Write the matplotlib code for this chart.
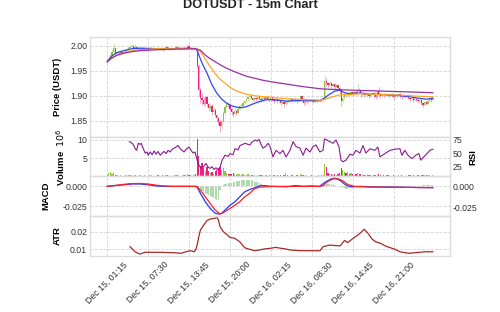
import numpy as np
import matplotlib
matplotlib.use("Agg")
import matplotlib.pyplot as plt
from matplotlib.ticker import FormatStrFormatter

plt.rcParams['font.family'] = ['Liberation Sans', 'DejaVu Sans']

## data (15m bars, index 0..199)
closes = [
    1.969, 1.974, 1.981, 1.988, 1.995, 1.986, 1.987, 1.985, 1.988, 1.986,
    1.987, 1.990, 1.992, 1.995, 1.997, 1.999, 1.996, 1.998, 1.995, 1.993,
    1.994, 1.996, 1.993, 1.995, 1.994, 1.992, 1.995, 1.996, 1.993, 1.994,
    1.995, 1.993, 1.996, 1.994, 1.992, 1.995, 1.997, 1.994, 1.995, 1.993,
    1.994, 1.996, 1.998, 1.995, 1.993, 1.994, 1.995, 1.993, 1.996, 1.999,
    1.995, 1.994, 1.993, 1.995, 1.993, 1.960, 1.912, 1.896, 1.892, 1.884,
    1.897, 1.883, 1.876, 1.880, 1.868, 1.872, 1.861, 1.855, 1.848, 1.839,
    1.850, 1.866, 1.878, 1.884, 1.881, 1.874, 1.868, 1.864, 1.870, 1.866,
    1.874, 1.880, 1.879, 1.886, 1.889, 1.893, 1.897, 1.900, 1.896, 1.892,
    1.895, 1.893, 1.897, 1.894, 1.891, 1.896, 1.893, 1.898, 1.894, 1.892,
    1.895, 1.893, 1.890, 1.894, 1.889, 1.891, 1.886, 1.888, 1.884, 1.889,
    1.887, 1.891, 1.893, 1.890, 1.894, 1.892, 1.889, 1.893, 1.899, 1.893,
    1.886, 1.888, 1.891, 1.889, 1.892, 1.890, 1.888, 1.891, 1.889, 1.892,
    1.890, 1.891, 1.893, 1.929, 1.925, 1.922, 1.926, 1.920, 1.923, 1.918,
    1.921, 1.915, 1.912, 1.889, 1.896, 1.904, 1.901, 1.906, 1.903, 1.907,
    1.904, 1.908, 1.905, 1.912, 1.909, 1.903, 1.906, 1.901, 1.904, 1.902,
    1.899, 1.903, 1.905, 1.901, 1.898, 1.909, 1.902, 1.900, 1.903, 1.901,
    1.904, 1.902, 1.899, 1.903, 1.901, 1.898, 1.902, 1.900, 1.903, 1.899,
    1.897, 1.900, 1.898, 1.901, 1.896, 1.893, 1.895, 1.891, 1.894, 1.892,
    1.889, 1.891, 1.886, 1.882, 1.888, 1.884, 1.890, 1.893, 1.891, 1.896,
]
first_open = 1.965
highs = [
    1.972, 1.978, 1.985, 1.993, 2.006, 1.997, 1.990, 1.989, 1.991, 1.990,
    1.990, 1.993, 1.996, 1.999, 2.001, 2.003, 2.002, 2.003, 2.000, 1.997,
    1.997, 1.999, 1.998, 1.997, 1.997, 1.996, 1.997, 1.999, 1.998, 1.996,
    1.997, 1.997, 1.998, 1.998, 1.996, 1.998, 2.002, 1.999, 1.997, 1.997,
    1.996, 1.998, 2.001, 2.000, 1.997, 1.996, 1.997, 1.997, 1.998, 2.004,
    2.001, 1.997, 1.996, 1.997, 1.998, 1.995, 1.963, 1.918, 1.905, 1.898,
    1.902, 1.900, 1.886, 1.886, 1.883, 1.876, 1.875, 1.864, 1.858, 1.851,
    1.853, 1.869, 1.882, 1.888, 1.887, 1.883, 1.876, 1.870, 1.873, 1.872,
    1.877, 1.883, 1.884, 1.889, 1.892, 1.896, 1.900, 1.904, 1.902, 1.898,
    1.898, 1.897, 1.904, 1.899, 1.896, 1.899, 1.898, 1.901, 1.900, 1.896,
    1.898, 1.897, 1.895, 1.896, 1.896, 1.893, 1.893, 1.891, 1.890, 1.891,
    1.892, 1.893, 1.896, 1.895, 1.896, 1.896, 1.894, 1.895, 1.902, 1.901,
    1.895, 1.890, 1.893, 1.893, 1.894, 1.894, 1.892, 1.893, 1.893, 1.894,
    1.894, 1.893, 1.895, 1.942, 1.935, 1.928, 1.930, 1.928, 1.926, 1.925,
    1.924, 1.923, 1.917, 1.914, 1.899, 1.907, 1.906, 1.909, 1.908, 1.910,
    1.909, 1.910, 1.910, 1.926, 1.916, 1.911, 1.908, 1.908, 1.906, 1.906,
    1.904, 1.905, 1.907, 1.907, 1.903, 1.911, 1.917, 1.904, 1.905, 1.905,
    1.906, 1.906, 1.904, 1.905, 1.905, 1.903, 1.904, 1.904, 1.905, 1.905,
    1.901, 1.902, 1.902, 1.903, 1.903, 1.898, 1.897, 1.897, 1.896, 1.896,
    1.894, 1.893, 1.893, 1.888, 1.890, 1.890, 1.892, 1.895, 1.895, 1.898,
]
lows = [
    1.963, 1.967, 1.972, 1.979, 1.986, 1.983, 1.984, 1.982, 1.983, 1.984,
    1.984, 1.985, 1.988, 1.990, 1.993, 1.995, 1.993, 1.994, 1.992, 1.990,
    1.991, 1.992, 1.991, 1.991, 1.992, 1.989, 1.990, 1.993, 1.991, 1.991,
    1.992, 1.991, 1.991, 1.992, 1.989, 1.990, 1.993, 1.992, 1.992, 1.991,
    1.991, 1.992, 1.994, 1.993, 1.991, 1.991, 1.992, 1.991, 1.991, 1.994,
    1.993, 1.992, 1.991, 1.991, 1.990, 1.955, 1.900, 1.886, 1.882, 1.879,
    1.880, 1.878, 1.869, 1.872, 1.862, 1.864, 1.857, 1.848, 1.841, 1.827,
    1.834, 1.846, 1.862, 1.875, 1.877, 1.870, 1.861, 1.857, 1.861, 1.862,
    1.863, 1.871, 1.875, 1.876, 1.884, 1.886, 1.890, 1.894, 1.893, 1.889,
    1.889, 1.890, 1.891, 1.891, 1.887, 1.889, 1.890, 1.891, 1.891, 1.888,
    1.889, 1.890, 1.886, 1.887, 1.885, 1.886, 1.882, 1.884, 1.877, 1.882,
    1.884, 1.885, 1.889, 1.887, 1.888, 1.889, 1.886, 1.887, 1.891, 1.891,
    1.882, 1.884, 1.886, 1.886, 1.887, 1.888, 1.885, 1.886, 1.887, 1.887,
    1.888, 1.888, 1.889, 1.890, 1.919, 1.917, 1.919, 1.915, 1.917, 1.913,
    1.915, 1.912, 1.906, 1.880, 1.886, 1.894, 1.898, 1.899, 1.900, 1.901,
    1.901, 1.902, 1.902, 1.903, 1.905, 1.898, 1.900, 1.898, 1.899, 1.899,
    1.895, 1.897, 1.901, 1.898, 1.894, 1.896, 1.899, 1.896, 1.898, 1.898,
    1.899, 1.899, 1.895, 1.897, 1.898, 1.894, 1.896, 1.897, 1.898, 1.896,
    1.893, 1.895, 1.895, 1.896, 1.893, 1.889, 1.890, 1.887, 1.889, 1.889,
    1.885, 1.886, 1.882, 1.877, 1.880, 1.881, 1.882, 1.888, 1.888, 1.889,
]
volumes = [  # millions
    0.4, 0.9, 1.1, 0.7, 1.0, 0.5, 0.3, 0.2, 0.3, 0.2,
    0.2, 0.3, 0.4, 0.3, 0.5, 0.4, 0.2, 0.3, 0.2, 0.2,
    0.3, 0.2, 0.2, 0.3, 0.2, 0.2, 0.3, 0.4, 0.2, 0.2,
    0.2, 0.3, 0.2, 0.2, 0.4, 0.2, 0.5, 0.3, 0.2, 0.2,
    0.2, 0.3, 0.4, 0.3, 0.2, 0.2, 0.2, 0.3, 0.3, 0.6,
    0.4, 0.3, 0.2, 0.3, 0.6, 10.2, 5.5, 2.8, 3.6, 2.2,
    1.6, 2.6, 1.4, 0.9, 1.3, 0.8, 1.5, 1.9, 2.3, 2.7,
    1.9, 2.3, 1.5, 0.9, 0.6, 0.8, 0.7, 1.0, 0.6, 0.5,
    0.7, 0.6, 0.4, 0.6, 0.5, 0.4, 0.6, 0.5, 0.3, 0.4,
    0.3, 0.2, 0.4, 0.3, 0.3, 0.3, 0.2, 0.3, 0.2, 0.3,
    0.2, 0.2, 0.3, 0.2, 0.4, 0.2, 0.3, 0.2, 0.5, 0.9,
    0.3, 0.2, 0.2, 0.3, 0.2, 0.2, 0.3, 0.2, 0.6, 0.4,
    0.5, 0.3, 0.2, 0.2, 0.2, 0.3, 0.2, 0.2, 0.2, 0.3,
    0.2, 0.3, 0.3, 3.3, 2.6, 0.9, 0.7, 0.8, 0.5, 0.6,
    0.5, 0.8, 0.9, 2.4, 1.7, 1.3, 0.9, 1.2, 0.6, 0.9,
    0.7, 0.5, 0.6, 1.0, 0.8, 0.6, 0.4, 0.5, 0.3, 0.3,
    0.4, 0.3, 0.2, 0.3, 0.4, 0.5, 0.7, 0.3, 0.2, 0.3,
    0.2, 0.3, 0.3, 0.2, 0.2, 0.3, 0.2, 0.2, 0.3, 0.2,
    0.3, 0.2, 0.2, 0.2, 0.3, 0.4, 0.2, 0.3, 0.2, 0.2,
    0.3, 0.2, 0.4, 0.5, 0.4, 0.3, 0.3, 0.4, 0.2, 0.3,
]

# moving averages (bar index, price)
ma_fast_idx = [0, 3, 6, 10, 15, 20, 30, 40, 50, 54, 55, 58, 61, 64, 67, 70, 73, 76, 79, 82, 85, 88,
               91, 94, 97, 100, 105, 110, 115, 120, 125, 130, 133, 136, 139, 142, 145, 148, 152,
               156, 160, 165, 170, 175, 180, 185, 190, 195, 199]
ma_fast = [1.969, 1.980, 1.986, 1.990, 1.994, 1.995, 1.994, 1.994, 1.995, 1.994, 1.990, 1.965,
           1.945, 1.922, 1.905, 1.893, 1.885, 1.880, 1.877, 1.876, 1.878, 1.882, 1.886, 1.889,
           1.892, 1.892, 1.891, 1.889, 1.890, 1.890, 1.890, 1.890, 1.896, 1.903, 1.909, 1.911,
           1.906, 1.904, 1.905, 1.905, 1.903, 1.903, 1.902, 1.901, 1.900, 1.898, 1.895, 1.893,
           1.895]
ma_mid_idx = [0, 3, 6, 10, 15, 20, 30, 40, 50, 54, 57, 60, 63, 66, 69, 72, 75, 78, 81, 85, 90,
              95, 100, 105, 110, 115, 120, 125, 130, 133, 136, 140, 143, 146, 150, 155, 160, 170,
              180, 190, 199]
ma_mid = [1.968, 1.975, 1.981, 1.986, 1.990, 1.992, 1.994, 1.994, 1.994, 1.994, 1.988, 1.973,
          1.958, 1.944, 1.933, 1.925, 1.917, 1.911, 1.907, 1.903, 1.900, 1.898, 1.897, 1.895,
          1.894, 1.893, 1.892, 1.892, 1.891, 1.893, 1.896, 1.900, 1.902, 1.902, 1.903, 1.904,
          1.903, 1.902, 1.901, 1.899, 1.898]
ma_slow_idx = [0, 3, 6, 10, 15, 20, 25, 30, 40, 54, 57, 60, 63, 66, 70, 73, 77, 81, 85, 90, 95,
               100, 110, 120, 130, 135, 142, 150, 160, 170, 180, 190, 199]
ma_slow = [1.968, 1.976, 1.981, 1.985, 1.988, 1.990, 1.991, 1.992, 1.993, 1.994, 1.991, 1.981,
           1.974, 1.968, 1.960, 1.955, 1.949, 1.944, 1.939, 1.935, 1.931, 1.928, 1.923, 1.918,
           1.914, 1.913, 1.912, 1.911, 1.910, 1.909, 1.908, 1.907, 1.906]

# RSI (bar index, value)
rsi_idx = [13.6, 14.7, 15.9, 17.1, 18, 19, 20.1, 20.8, 21.4, 23.2, 24.4, 25, 26.3, 27.5, 28.7,
           29.9, 31.1, 32.4, 33.6, 34.8, 36, 37.2, 38.5, 39.7, 41.5, 43.3, 44.6, 45.8, 47, 48.2,
           50, 51.3, 52.5, 53.7, 54.9, 56.2, 57.4, 58.6, 60.4, 61.7, 62.9, 64.1, 65.3, 66.5,
           67.8, 69, 70.2, 72, 73.9, 75.1, 76.9, 78.1, 80, 81.2, 83, 84.2, 86, 87.3, 88.5, 90.4,
           91.6, 92.8, 94, 95.2, 97.1, 98.3, 99.5, 101.3, 103.2, 105.6, 107.4, 109.3, 111.7,
           113.6, 115.4, 117.8, 119.7, 121.5, 123.9, 125.8, 127.6, 130, 131.9, 132.8, 134.3,
           136.1, 138, 139.8, 141.6, 142.9, 144.1, 145.9, 148.4, 150.2, 152, 154.5, 156.3,
           158.1, 160.6, 163.6, 165.4, 166.7, 169.7, 172.8, 175.8, 178.9, 180.1, 181.9, 183.8,
           186.2, 188.6, 190.5, 191.7, 193.5, 195.4, 197.2, 199]
rsi = [71, 69, 66, 58, 55, 68, 66, 68, 63, 50, 52, 46, 52, 47, 54, 48, 53, 46, 50, 53, 49, 55,
       52, 57, 60, 64, 58, 55, 52, 57, 61, 55, 50, 52, 38, 27, 22, 24, 31, 24, 22, 25, 20, 23,
       19, 24, 37, 46, 44, 49, 47, 58, 56, 64, 66, 68, 66, 65, 70, 74, 72, 75, 66, 59, 63, 68,
       62, 43, 55, 49, 55, 43, 55, 71, 62, 59, 46, 59, 52, 62, 65, 52, 55, 76, 74, 71, 68, 74,
       62, 37, 34, 37, 48, 46, 55, 50, 64, 50, 58, 55, 61, 43, 49, 55, 57, 58, 46, 55, 46, 40,
       46, 49, 37, 43, 49, 55, 57]

# MACD / signal (bar index, value)
macd_idx = [0, 5, 10, 15, 20, 25, 30, 35, 40, 45, 50, 54, 55, 57, 60, 63, 66, 68, 70, 73, 75,
            78, 81, 84, 87, 90, 93, 96, 100, 110, 115, 120, 125, 130, 131, 133, 135, 137, 139,
            141, 143, 145, 147, 150, 155, 160, 170, 180, 190, 199]
macd = [0.000, 0.001, 0.002, 0.003, 0.003, 0.002, 0.0005, 0.000, 0.000, 0.000, 0.000, 0.000,
        -0.001, -0.009, -0.0196, -0.028, -0.034, -0.035, -0.034, -0.028, -0.024, -0.0196,
        -0.0133, -0.007, -0.004, -0.002, 0.0005, 0.001, 0.000, -0.0005, 0.001, 0.000, 0.0005,
        0.000, 0.002, 0.005, 0.0075, 0.0095, 0.0104, 0.009, 0.0065, 0.003, 0.0005, -0.0005,
        0.000, -0.0005, -0.0008, -0.001, -0.0015, -0.0017]
signal_idx = [0, 5, 10, 15, 20, 25, 30, 35, 40, 50, 54, 55, 57, 60, 63, 66, 69, 71, 75, 78, 81,
              84, 87, 90, 93, 100, 110, 120, 130, 132, 134, 136, 138, 141, 144, 147, 151, 160,
              170, 180, 190, 199]
signal = [0.000, 0.0012, 0.0025, 0.0035, 0.0037, 0.003, 0.0015, 0.0005, 0.000, 0.000, 0.000,
          0.000, -0.005, -0.0133, -0.0217, -0.030, -0.035, -0.0333, -0.028, -0.0238, -0.0196,
          -0.0133, -0.009, -0.003, -0.001, 0.000, 0.000, 0.000, 0.000, 0.001, 0.005, 0.0075,
          0.0096, 0.0096, 0.007, 0.0025, 0.000, -0.0008, -0.001, -0.0012, -0.0014, -0.0015]
hist = [
    0.0005, 0.0008, 0.0010, 0.0010, 0.0012, 0.0010, 0.0008, 0.0006, 0.0005, 0.0004,
    0.0004, 0.0005, 0.0006, 0.0006, 0.0007, 0.0006, 0.0005, 0.0004, 0.0003, 0.0002,
    0.0002, 0.0001, -0.0002, -0.0003, -0.0004, -0.0004, -0.0003, -0.0002, -0.0002, -0.0001,
    0.0001, 0.0002, 0.0002, 0.0001, -0.0001, -0.0002, -0.0002, -0.0001, 0.0001, 0.0002,
    0.0002, 0.0001, 0.0001, -0.0001, -0.0002, -0.0001, 0.0001, 0.0001, 0.0002, 0.0002,
    0.0001, -0.0001, -0.0002, -0.0001, -0.0003, -0.0010, -0.0030, -0.0045, -0.0060, -0.0075,
    -0.0085, -0.0095, -0.0105, -0.0115, -0.0125, -0.0135, -0.0145, -0.0155, -0.0165, -0.0050,
    0.0005, 0.0012, 0.0020, 0.0026, 0.0030, 0.0035, 0.0040, 0.0045, 0.0050, 0.0054,
    0.0058, 0.0062, 0.0065, 0.0068, 0.0070, 0.0072, 0.0073, 0.0073, 0.0071, 0.0066,
    0.0060, 0.0052, 0.0042, 0.0031, 0.0022, 0.0015, 0.0010, 0.0006, 0.0004, 0.0003,
    0.0002, 0.0001, -0.0002, -0.0003, -0.0004, -0.0003, -0.0002, -0.0003, -0.0004, -0.0002,
    0.0001, 0.0002, 0.0004, 0.0005, 0.0004, 0.0003, 0.0002, 0.0003, 0.0004, 0.0002,
    0.0001, -0.0001, -0.0002, -0.0001, 0.0001, 0.0001, 0.0002, 0.0001, 0.0001, 0.0002,
    0.0001, 0.0008, 0.0015, 0.0022, 0.0026, 0.0027, 0.0025, 0.0020, 0.0015, 0.0010,
    0.0006, 0.0002, -0.0004, -0.0012, -0.0020, -0.0026, -0.0030, -0.0030, -0.0027, -0.0023,
    -0.0019, -0.0015, -0.0011, -0.0008, -0.0005, -0.0003, -0.0002, -0.0001, 0.0001, 0.0001,
    0.0002, 0.0001, -0.0001, -0.0002, -0.0001, 0.0001, 0.0002, 0.0001, -0.0001, -0.0002,
    -0.0002, -0.0001, 0.0001, 0.0001, 0.0002, 0.0001, -0.0001, -0.0001, 0.0001, 0.0002,
    0.0001, 0.0001, -0.0001, -0.0002, -0.0002, -0.0001, 0.0001, 0.0002, 0.0003, 0.0004,
    0.0005, 0.0006, 0.0006, 0.0007, 0.0008, 0.0009, 0.0010, 0.0010, 0.0011, 0.0012,
]

# ATR (bar index, value)
atr_idx = [14, 17, 20, 23, 32, 42, 45, 48, 51, 53, 54, 55, 56, 57, 59, 61, 63, 66, 67, 68, 69,
           71, 73, 75, 78, 81, 84, 87, 90, 93, 96, 100, 103, 106, 109, 112, 118, 130, 132, 136,
           142, 143, 145, 147, 150, 153, 155, 157, 159, 162, 164, 167, 170, 173, 176, 179, 182,
           185, 188, 191, 194, 199]
atr = [0.0115, 0.0086, 0.0073, 0.0083, 0.0083, 0.0080, 0.0077, 0.0086, 0.0092, 0.0086, 0.0095,
       0.0125, 0.0172, 0.0210, 0.0238, 0.0263, 0.0272, 0.0276, 0.0282, 0.0267, 0.0228, 0.0200,
       0.0185, 0.0168, 0.0162, 0.0143, 0.0109, 0.0100, 0.0092, 0.0096, 0.0102, 0.0106, 0.0111,
       0.0106, 0.0102, 0.0096, 0.0092, 0.0092, 0.0115, 0.0124, 0.0119, 0.0125, 0.0150, 0.0138,
       0.0160, 0.0180, 0.0195, 0.0214, 0.0195, 0.0157, 0.0143, 0.0134, 0.0119, 0.0109, 0.0100,
       0.0086, 0.0081, 0.0077, 0.0081, 0.0083, 0.0086, 0.0086]

tick_bars = [0, 25, 50, 75, 100, 125, 150, 175]
tick_labels = ["Dec 15, 01:15", "Dec 15, 07:30", "Dec 15, 13:45", "Dec 15, 20:00",
               "Dec 16, 02:15", "Dec 16, 08:30", "Dec 16, 14:45", "Dec 16, 21:00"]

## plotting
up_col, down_col = '#8cc43c', '#f0207f'
grid_col = '#d4d4d4'
spine_col = '#dcdcdc'
fs = 6.3

x = np.arange(len(closes))
closes = np.array(closes)
opens = np.concatenate([[first_open], closes[:-1]])
is_up = closes >= opens
cols = np.where(is_up, up_col, down_col)

fig = plt.figure(figsize=(5, 3.12), dpi=100)
ax_p = fig.add_axes([0.18, 0.5609, 0.72, 0.3205])
ax_v = fig.add_axes([0.18, 0.4343, 0.72, 0.1266], sharex=ax_p)
ax_m = fig.add_axes([0.18, 0.3077, 0.72, 0.1266], sharex=ax_p)
ax_a = fig.add_axes([0.18, 0.1795, 0.72, 0.1282], sharex=ax_p)

for ax in (ax_p, ax_v, ax_m, ax_a):
    ax.grid(True, ls='--', lw=0.6, color=grid_col)
    ax.set_axisbelow(True)
    for s in ax.spines.values():
        s.set_color(spine_col)
        s.set_linewidth(1.0)
    ax.tick_params(labelsize=fs, length=0, pad=2, colors='#333333')
    ax.set_xticks(tick_bars)
    ax.tick_params(axis='x', labelbottom=False)

# candles
ax_p.vlines(x, lows, highs, colors=cols, lw=0.7, alpha=0.4)
ax_p.bar(x, closes - opens, bottom=opens, width=0.75, color=cols, lw=0)
ax_p.plot(ma_fast_idx, ma_fast, color='#2e45ff', lw=0.9)
ax_p.plot(ma_mid_idx, ma_mid, color='#ffa424', lw=0.9)
ax_p.plot(ma_slow_idx, ma_slow, color='#9a2fa3', lw=0.9)
ax_p.set_xlim(-10.5, 209.5)
ax_p.set_ylim(1.8174, 2.0174)
ax_p.set_yticks([1.85, 1.90, 1.95, 2.00])
ax_p.yaxis.set_major_formatter(FormatStrFormatter('%.2f'))
ax_p.set_ylabel("Price (USDT)", fontsize=6.8, fontweight='bold')
ax_p.yaxis.set_label_coords(-0.078, 0.5)

# volume + RSI
ax_v.bar(x, volumes, width=0.8, color=cols, lw=0)
ax_v.set_ylim(0, 10.8)
ax_v.set_yticks([5, 10])
ax_v.set_ylabel("Volume  $10^{6}$", fontsize=6.8, fontweight='bold')
ax_v.yaxis.set_label_coords(-0.064, 0.5)
ax_r = ax_v.twinx()
ax_r.plot(rsi_idx, rsi, color='#8b1a8f', lw=0.8)
ax_r.set_ylim(7, 79.5)
ax_r.set_yticks([25, 50, 75])
ax_r.tick_params(labelsize=fs, length=0, pad=2, colors='#333333')
ax_r.set_ylabel("RSI", fontsize=6.8, fontweight='bold')
ax_r.yaxis.set_label_coords(1.05, 0.5)
for s in ax_r.spines.values():
    s.set_visible(False)

# MACD
ax_m.plot(macd_idx, macd, color='#1f3cff', lw=0.9)
ax_m.plot(signal_idx, signal, color='#ff1f1f', lw=0.9)
ax_m.set_ylim(-0.0375, 0.0125)
ax_m.set_yticks([-0.025, 0.0])
ax_m.yaxis.set_major_formatter(FormatStrFormatter('%.3f'))
ax_m.set_ylabel("MACD", fontsize=6.8, fontweight='bold')
ax_m.yaxis.set_label_coords(-0.111, 0.5)
ax_h = ax_m.twinx()
ax_h.bar(x, hist, width=0.8, color='#5cb85c', alpha=0.5, lw=0)
ax_h.set_ylim(-0.0344, 0.011)
ax_h.set_yticks([-0.025, 0.0])
ax_h.yaxis.set_major_formatter(FormatStrFormatter('%.3f'))
ax_h.tick_params(labelsize=fs, length=0, pad=2, colors='#333333')
for s in ax_h.spines.values():
    s.set_visible(False)
ax_m.set_zorder(ax_h.get_zorder() + 1)
ax_m.patch.set_visible(False)

# ATR
ax_a.plot(atr_idx, atr, color='#a82828', lw=0.9)
ax_a.set_ylim(0.0062, 0.0289)
ax_a.set_yticks([0.01, 0.02])
ax_a.yaxis.set_major_formatter(FormatStrFormatter('%.2f'))
ax_a.set_ylabel("ATR", fontsize=6.8, fontweight='bold')
ax_a.yaxis.set_label_coords(-0.078, 0.5)
ax_a.tick_params(axis='x', labelbottom=True, pad=3)
ax_a.set_xticklabels(tick_labels, rotation=45, ha='center', fontsize=fs)

fig.text(0.5, 1 - 5.5 / 312, "DOTUSDT - 15m Chart", ha='center', va='center',
         fontsize=9.2, fontweight='bold', color='#222222')

fig.savefig("out.png", dpi=100)
